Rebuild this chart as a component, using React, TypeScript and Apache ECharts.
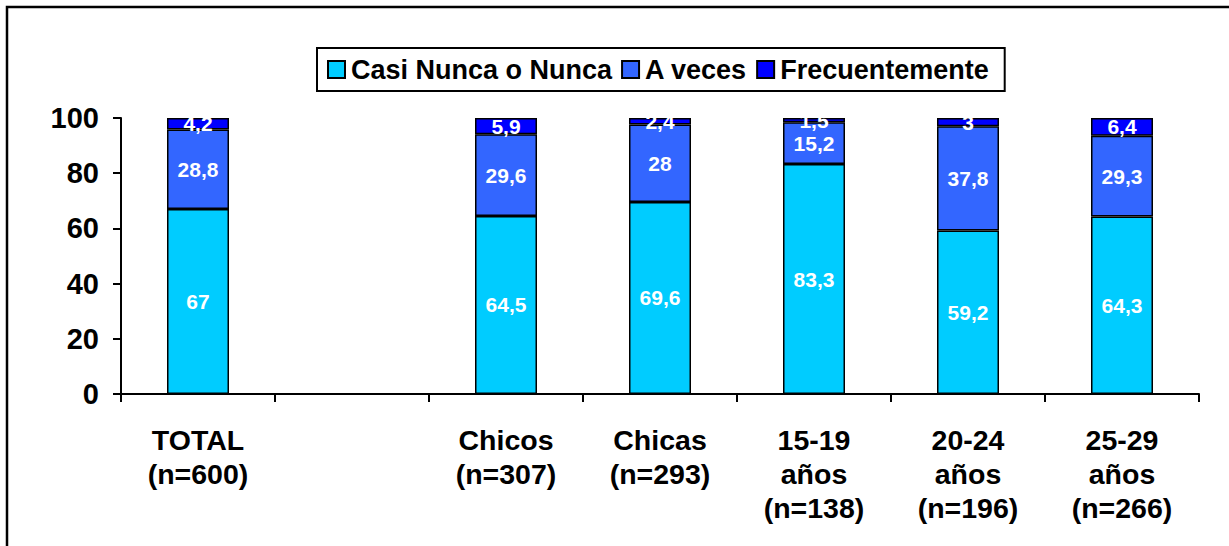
import React, { useEffect, useRef } from "react";
import * as echarts from "echarts";

const categories = [
  "TOTAL\n(n=600)",
  "",
  "Chicos\n(n=307)",
  "Chicas\n(n=293)",
  "15-19\naños\n(n=138)",
  "20-24\naños\n(n=196)",
  "25-29\naños\n(n=266)",
];
const seriesNames = ["Casi Nunca o Nunca", "A veces", "Frecuentemente"];
const casiNunca = [67, null, 64.5, 69.6, 83.3, 59.2, 64.3];
const aVeces = [28.8, null, 29.6, 28, 15.2, 37.8, 29.3];
const frecuentemente = [4.2, null, 5.9, 2.4, 1.5, 3, 6.4];
const yTicks = [0, 20, 40, 60, 80, 100];
const colors = ["#00CCFF", "#3366FF", "#0000FF"];

const FONT = "'Liberation Sans', Arial, sans-serif";

export default function App() {
  const ref = useRef<HTMLDivElement>(null);
  useEffect(() => {
    if (!ref.current) return;
    const chart = echarts.init(ref.current, undefined, { renderer: "svg" });
    const values = [casiNunca, aVeces, frecuentemente];
    chart.setOption({
      animation: false,
      backgroundColor: "#ffffff",
      textStyle: { fontFamily: FONT },
      graphic: [
        {
          type: "rect",
          shape: { x: 7, y: 7, width: 1400, height: 700 },
          style: { fill: "none", stroke: "#000", lineWidth: 2.5 },
          silent: true,
        },
      ],
      legend: {
        left: 317,
        top: 48,
        padding: [8, 16, 8, 10],
        borderColor: "#000",
        borderWidth: 2,
        itemWidth: 17,
        itemHeight: 17,
        itemGap: 9,
        icon: "rect",
        textStyle: {
          fontFamily: FONT,
          fontWeight: "bold",
          fontSize: 27,
          color: "#000",
          padding: [0, 0, 0, 1],
        },
        data: seriesNames.map((n, i) => ({
          name: n,
          itemStyle: { color: colors[i], borderColor: "#000", borderWidth: 2 },
        })),
      },
      grid: { left: 121, right: 30, top: 118, bottom: 152, containLabel: false },
      xAxis: {
        type: "category",
        data: categories,
        axisLine: { lineStyle: { color: "#000", width: 2 } },
        axisTick: { show: true, length: 8, lineStyle: { color: "#000", width: 2 } },
        axisLabel: {
          interval: 0,
          margin: 29,
          fontFamily: FONT,
          fontWeight: "bold",
          fontSize: 28.5,
          lineHeight: 34,
          color: "#000",
        },
      },
      yAxis: {
        type: "value",
        min: yTicks[0],
        max: yTicks[yTicks.length - 1],
        interval: 20,
        splitLine: { show: false },
        axisLine: { show: true, lineStyle: { color: "#000", width: 2 } },
        axisTick: { show: true, length: 8, lineStyle: { color: "#000", width: 2 } },
        axisLabel: {
          margin: 22,
          fontFamily: FONT,
          fontWeight: "bold",
          fontSize: 29,
          color: "#000",
        },
      },
      series: seriesNames.map((name, i) => ({
        name,
        type: "bar",
        stack: "total",
        barWidth: 62,
        data: values[i],
        itemStyle: { color: colors[i], borderColor: "#000", borderWidth: 1.5 },
        label: {
          show: true,
          position: "inside",
          color: "#fff",
          fontFamily: FONT,
          fontWeight: "bold",
          fontSize: 21,
          formatter: (p: any) => String(p.value).replace(".", ","),
        },
      })),
    });
    return () => chart.dispose();
  }, []);
  return (
    <div
      ref={ref}
      style={{ position: "absolute", left: 0, top: 0, width: 1229, height: 546 }}
    />
  );
}
